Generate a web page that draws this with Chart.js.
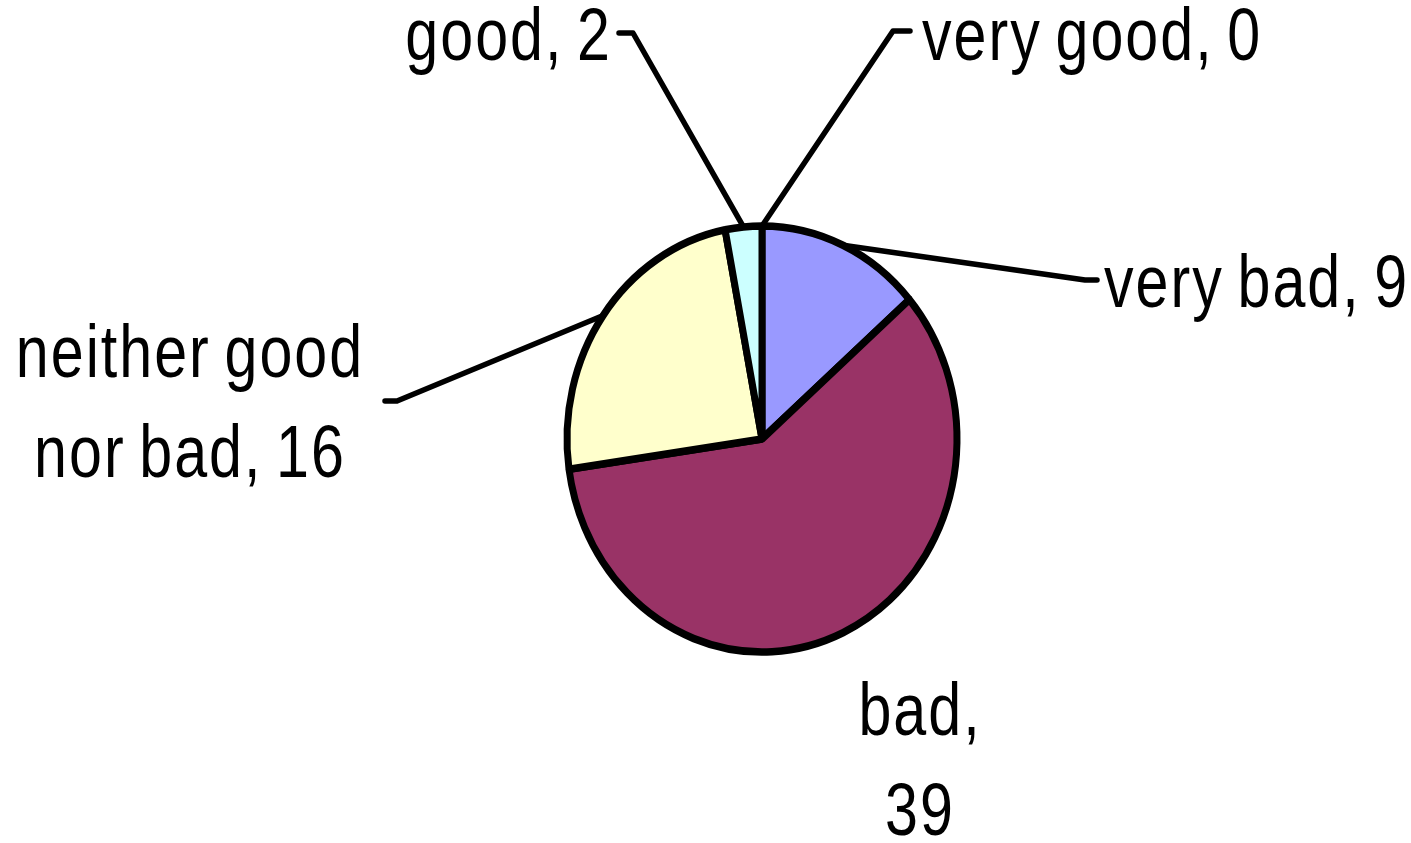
<!DOCTYPE html>
<html>
<head>
<meta charset="utf-8">
<script src="https://cdn.jsdelivr.net/npm/chart.js@4.4.1/dist/chart.umd.min.js"></script>
<style>
  html, body { margin: 0; padding: 0; background: #fff; }
  #wrap { width: 1411px; height: 843px; }
</style>
</head>
<body>
<div id="wrap"><canvas id="myChart" width="1411" height="843"></canvas></div>
<script>
// data
var categories = ['very bad', 'bad', 'neither good nor bad', 'good', 'very good'];
var counts = [9, 39, 16, 2, 0];
var colours = ['#9999FF', '#993366', '#FFFFCC', '#CCFFFF', '#FFFFFF'];

// label lines + where the leader bends (layout only)
var labelLines = [['very bad, 9'], ['bad,', '39'], ['neither good', 'nor bad, 16'], ['good, 2'], ['very good, 0']];
var labelPos = [
  { x: 1104, y: 307, align: 'left', elbow: [1085, 280], end: 1097 },
  { x: 920, y: 735, align: 'center', elbow: null },
  { x: 190, y: 377, align: 'center', elbow: [397, 401], end: 385 },
  { x: 612, y: 60, align: 'right', elbow: [633, 33], end: 619 },
  { x: 922, y: 60, align: 'left', elbow: [893, 31], end: 910 }
];

var cx = 762, cy = 439, rx = 195, ry = 213;
var squash = ry / rx;
var narrow = 0.8;   // no narrow font installed, squeeze text instead

var stretchPlugin = {
  id: 'stretch',
  beforeDatasetsDraw: function(chart) {
    var c = chart.ctx;
    c.save();
    c.translate(cx, cy);
    c.scale(1, squash);
    c.translate(-cx, -cy);
  },
  afterDatasetsDraw: function(chart) {
    chart.ctx.restore();
  }
};

var labelPlugin = {
  id: 'pieLabels',
  afterDraw: function(chart) {
    var c = chart.ctx;
    var arcs = chart.getDatasetMeta(0).data;
    c.save();
    c.fillStyle = '#000';
    c.strokeStyle = '#000';
    c.lineWidth = 5.5;
    c.lineCap = 'round';
    c.lineJoin = 'round';
    arcs.forEach(function(arc, i) {
      var p = labelPos[i];
      if (p.elbow) {
        var mid = (arc.startAngle + arc.endAngle) / 2;
        var sx = arc.x + arc.outerRadius * Math.cos(mid);
        var sy = cy + (arc.outerRadius * Math.sin(mid)) * squash;
        c.beginPath();
        c.moveTo(sx, sy);
        c.lineTo(p.elbow[0], p.elbow[1]);
        c.lineTo(p.end, p.elbow[1]);
        c.stroke();
      }
      c.save();
      c.translate(p.x, p.y);
      c.scale(narrow, 1);
      c.font = '74px "Liberation Sans Narrow", "Liberation Sans", Arial, sans-serif';
      if ('letterSpacing' in c) c.letterSpacing = '2.5px';
      if ('wordSpacing' in c) c.wordSpacing = '-6px';
      c.textAlign = p.align;
      c.textBaseline = 'alphabetic';
      labelLines[i].forEach(function(t, k) {
        c.fillText(t, 0, k * 100);
      });
      c.restore();
    });
    c.restore();
  }
};

var ctx = document.getElementById('myChart');
var myChart = new Chart(ctx, {
  type: 'pie',
  data: {
    labels: categories,
    datasets: [{
      data: counts,
      backgroundColor: colours,
      borderColor: '#000',
      borderWidth: 7
    }]
  },
  options: {
    responsive: false,
    animation: false,
    radius: rx,
    layout: { padding: { left: 113, right: 0, top: 35, bottom: 0 } },
    plugins: {
      legend: { display: false },
      tooltip: { enabled: false }
    }
  },
  plugins: [stretchPlugin, labelPlugin]
});
</script>
</body>
</html>
